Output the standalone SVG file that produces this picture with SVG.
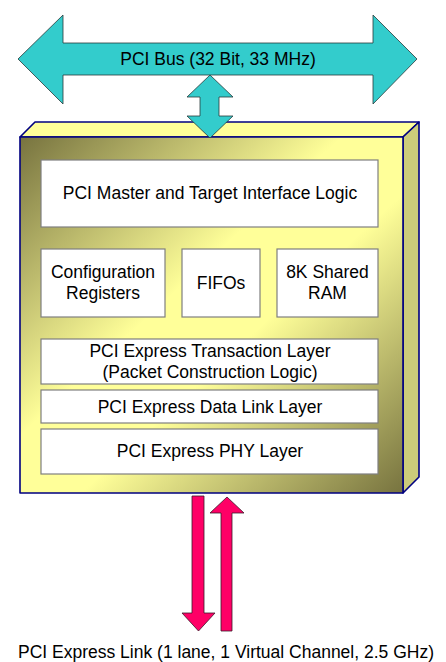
<svg xmlns="http://www.w3.org/2000/svg" width="446" height="662" viewBox="0 0 446 662">
<defs>
<linearGradient id="face" x1="0" y1="0" x2="1" y2="1">
<stop offset="0" stop-color="#77733f"/>
<stop offset="0.42" stop-color="#ffff99"/>
<stop offset="0.58" stop-color="#ffff99"/>
<stop offset="1" stop-color="#77733f"/>
</linearGradient>
</defs>
<style>
text{font-family:"Liberation Sans",Arial,sans-serif;font-size:17.5px;fill:#000;text-anchor:middle}
.box{fill:#fff;stroke:#7f7f7f;stroke-width:1.2}
.cyan{fill:#33cccc;stroke:#2a3a3a;stroke-width:0.8}
.pink{fill:#ff0066;stroke:#3a1a2a;stroke-width:0.8}
.edge{stroke:#000080;stroke-width:1.6;stroke-linejoin:round}
</style>
<g id="chip">
<polygon class="edge" fill="#ffff99" points="20,137 35,122 419,122 403,137"/>
<polygon class="edge" fill="#cccc7a" points="403,137 419,122 419,477 403,493"/>
<rect class="edge" x="20" y="137" width="383" height="356" fill="url(#face)"/>
</g>
<g id="connectors">
<polygon class="cyan" points="18,59 63,15 63,43 373,43 373,15 417,59 373,104 373,75 63,75 63,104"/>
<polygon class="cyan" points="210,75 233,97 219,97 219,116 233,116 210,138 187,116 200,116 200,97 187,97"/>
<polygon class="pink" points="192,496 204,496 204,613 215,613 198.5,631 182,613 192,613"/>
<polygon class="pink" points="227,497 244,513 232,513 232,631 221,631 221,513 210,513"/>
</g>
<g id="bus-label"><text x="218" y="65">PCI Bus (32 Bit, 33 MHz)</text></g>
<g id="master"><rect class="box" x="41" y="160" width="337" height="67"/><text x="210" y="199">PCI Master and Target Interface Logic</text></g>
<g id="config"><rect class="box" x="41" y="249" width="124" height="68"/><text x="103" y="278">Configuration</text><text x="103" y="299">Registers</text></g>
<g id="fifos"><rect class="box" x="182" y="249" width="78" height="68"/><text x="221" y="289">FIFOs</text></g>
<g id="ram"><rect class="box" x="277" y="249" width="101" height="68"/><text x="327.5" y="278">8K Shared</text><text x="327.5" y="299">RAM</text></g>
<g id="transaction"><rect class="box" x="41" y="339" width="337" height="45"/><text x="210" y="357">PCI Express Transaction Layer</text><text x="210" y="378">(Packet Construction Logic)</text></g>
<g id="datalink"><rect class="box" x="41" y="390" width="337" height="33"/><text x="210" y="413">PCI Express Data Link Layer</text></g>
<g id="phy"><rect class="box" x="41" y="429" width="337" height="45"/><text x="210" y="457">PCI Express PHY Layer</text></g>
<g id="link-label"><text x="226" y="658">PCI Express Link (1 lane, 1 Virtual Channel, 2.5 GHz)</text></g>
</svg>
